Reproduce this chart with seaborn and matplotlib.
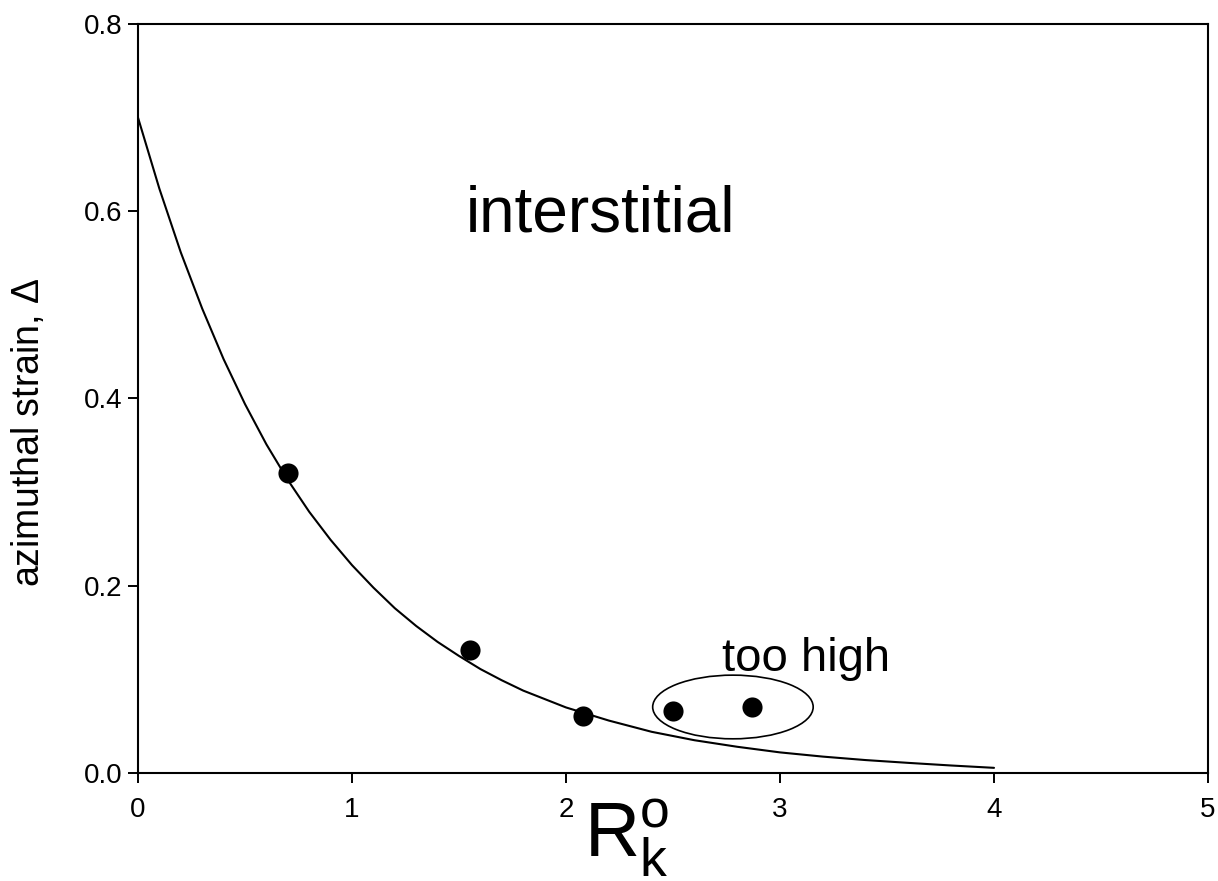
import matplotlib
matplotlib.use("Agg")
import matplotlib.pyplot as plt
from matplotlib.patches import Ellipse
import pandas as pd
import seaborn as sns

# fitted curve
curve_x = [0.0, 0.1, 0.2, 0.3, 0.4, 0.5, 0.6, 0.7, 0.8, 0.9, 1.0,
           1.1, 1.2, 1.3, 1.4, 1.5, 1.6, 1.7, 1.8, 1.9, 2.0,
           2.2, 2.4, 2.6, 2.8, 3.0, 3.2, 3.4, 3.6, 3.8, 4.0]
curve_y = [0.700, 0.624, 0.556, 0.496, 0.442, 0.394, 0.351, 0.313, 0.279, 0.249, 0.222,
           0.198, 0.176, 0.157, 0.140, 0.125, 0.111, 0.099, 0.088, 0.079, 0.070,
           0.056, 0.044, 0.035, 0.028, 0.022, 0.0175, 0.0138, 0.0108, 0.0080, 0.0055]

# measured points
pts_x = [0.70, 1.55, 2.08, 2.50, 2.87]
pts_y = [0.320, 0.131, 0.061, 0.066, 0.0705]

x_ticks = [0, 1, 2, 3, 4, 5]
y_ticks = [0.0, 0.2, 0.4, 0.6, 0.8]

sns.set_style("ticks")
plt.rcParams['font.family'] = ['Liberation Sans', 'DejaVu Sans']
plt.rcParams['mathtext.fontset'] = 'custom'
plt.rcParams['mathtext.rm'] = 'Liberation Sans'
plt.rcParams['mathtext.it'] = 'Liberation Sans:italic'
plt.rcParams['text.color'] = 'black'
plt.rcParams['axes.labelcolor'] = 'black'
plt.rcParams['xtick.color'] = 'black'
plt.rcParams['ytick.color'] = 'black'

curve = pd.DataFrame({'x': curve_x, 'y': curve_y})
pts = pd.DataFrame({'x': pts_x, 'y': pts_y})

fig = plt.figure(figsize=(12.18, 8.81), dpi=100)
ax = fig.add_axes([0.1133, 0.1226, 0.8785, 0.8502])

sns.lineplot(data=curve, x='x', y='y', color='black', linewidth=1.5, ax=ax)
sns.scatterplot(data=pts, x='x', y='y', color='black', s=210, edgecolor='black',
                linewidth=0, ax=ax, zorder=3)

# ellipse around the two "too high" points
ax.add_patch(Ellipse((2.78, 0.0705), 0.75, 0.068, fill=False,
                     edgecolor='black', linewidth=1.2))

ax.text(2.16, 0.596, 'interstitial', fontsize=46, ha='center', va='center')
ax.text(3.12, 0.122, 'too high', fontsize=34, ha='center', va='center')

ax.set_xlim(0, 5)
ax.set_ylim(0, 0.8)
ax.set_xticks(x_ticks)
ax.set_yticks(y_ticks)
ax.set_xticklabels([str(t) for t in x_ticks])
ax.set_yticklabels([f'{t:.1f}' for t in y_ticks])
ax.tick_params(direction='out', length=7, width=1.4, labelsize=20, pad=4,
               top=False, right=False)
ax.tick_params(axis='x', pad=10)

for s in ax.spines.values():
    s.set_visible(True)
    s.set_linewidth(1.5)
    s.set_color('black')

ax.set_xlabel(r'$\mathrm{R_k^o}$', fontsize=55)
ax.xaxis.set_label_coords(0.457, -0.033, transform=ax.transAxes)
ax.xaxis.label.set_va('top')
ax.set_ylabel(r'azimuthal strain, $\mathit{\Delta}$', fontsize=27)
ax.yaxis.set_label_coords(-0.085, 0.455)

fig.savefig('out.png', dpi=100)
